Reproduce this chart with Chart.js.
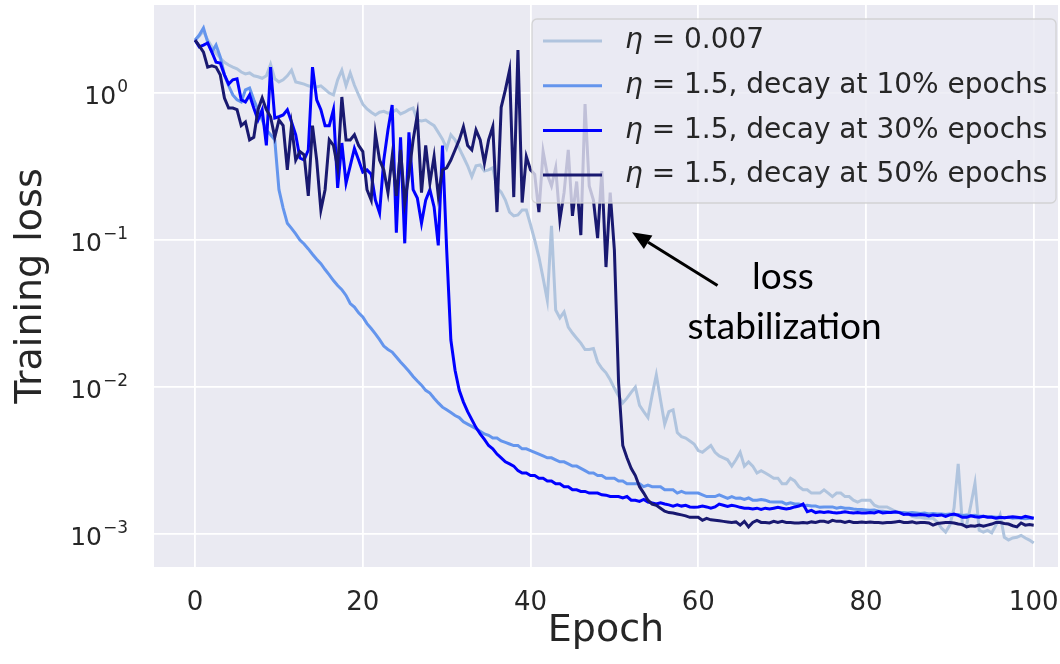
<!DOCTYPE html>
<html>
<head>
<meta charset="utf-8">
<script src="https://cdn.jsdelivr.net/npm/chart.js@4.4.1/dist/chart.umd.min.js"></script>
<style>
  html, body { margin: 0; padding: 0; background: #fff; }
  #wrap { width: 1060px; height: 664px; }
</style>
</head>
<body>
<div id="wrap"><canvas id="lossChart" width="1060" height="664"></canvas></div>
<script>
// epochs are logged twice per epoch
const epochs = Array.from({ length: 201 }, (_, i) => i / 2);
const xTicks = [0, 20, 40, 60, 80, 100];
const yTicks = [1e-3, 1e-2, 1e-1, 1];

const labels = [
  'η = 0.007',
  'η = 1.5, decay at 10% epochs',
  'η = 1.5, decay at 30% epochs',
  'η = 1.5, decay at 50% epochs'
];
const colors = ['#b0c4de', '#6495ed', '#0000ff', '#191970'];

const lossSmallLr = [
  2.29, 2.44, 2.64, 2.29, 2.06, 1.87, 1.73, 1.62, 1.55, 1.50,
  1.46, 1.39, 1.35, 1.37, 1.31, 1.29, 1.26, 1.31, 1.57, 1.25,
  1.19, 1.23, 1.31, 1.43, 1.19, 1.17, 1.15, 1.12, 1.10, 1.10,
  1.12, 1.06, 1.00, 0.97, 1.23, 1.43, 1.12, 1.37, 1.13, 0.97,
  0.84, 0.78, 0.74, 0.71, 0.74, 0.75, 0.73, 0.74, 0.77, 0.72,
  0.74, 0.77, 0.79, 0.655, 0.645, 0.655, 0.625, 0.60, 0.54, 0.486,
  0.42, 0.52, 0.48, 0.42, 0.367, 0.32, 0.27, 0.32, 0.324, 0.295,
  0.30, 0.31, 0.226, 0.212, 0.187, 0.155, 0.146, 0.148, 0.16, 0.16,
  0.127, 0.1, 0.0766, 0.0551, 0.039, 0.125, 0.0334, 0.0295, 0.0324, 0.0256,
  0.0233, 0.0215, 0.0199, 0.018, 0.018, 0.0183, 0.0148, 0.0134, 0.0125, 0.0112,
  0.0098, 0.0087, 0.0078, 0.0084, 0.0092, 0.0100, 0.0075, 0.0068, 0.0062, 0.0088,
  0.0121, 0.0082, 0.0056, 0.0068, 0.0070, 0.0049, 0.0046, 0.0045, 0.0043, 0.0041,
  0.0037, 0.0036, 0.0038, 0.0040, 0.0036, 0.0034, 0.0033, 0.0032, 0.0029, 0.0032,
  0.0036, 0.0029, 0.0031, 0.0029, 0.0026, 0.0027, 0.0026, 0.0025, 0.0024, 0.0024,
  0.0022, 0.0022, 0.0024, 0.0023, 0.0021, 0.0020, 0.0020, 0.0019, 0.0019, 0.0019,
  0.0020, 0.0019, 0.0018, 0.0019, 0.0019, 0.0018, 0.0018, 0.0017, 0.00165, 0.0017,
  0.0017, 0.0017, 0.00157, 0.00153, 0.00153, 0.00153, 0.00148, 0.00143, 0.00141, 0.00139,
  0.00137, 0.00132, 0.0013, 0.0013, 0.00128, 0.00128, 0.00128, 0.00121, 0.0011, 0.00103,
  0.00115, 0.0015, 0.0030, 0.00115, 0.00115, 0.00157, 0.00222, 0.00106, 0.00103, 0.00106,
  0.00102, 0.00115, 0.00135, 0.00095, 0.00091, 0.00094, 0.00095, 0.00098, 0.00094, 0.00091,
  0.00087
];

const lossDecay10 = [
  2.29, 2.48, 2.77, 2.22, 1.9, 2.12, 1.76, 1.33, 1.12, 0.97,
  0.9, 0.87, 1.05, 1.08, 0.9, 0.77, 0.655, 0.56, 0.52, 0.48,
  0.22, 0.165, 0.13, 0.12, 0.11, 0.1, 0.094, 0.087, 0.08, 0.074,
  0.069, 0.063, 0.058, 0.053, 0.049, 0.046, 0.042, 0.037, 0.035, 0.032,
  0.030, 0.027, 0.025, 0.023, 0.021, 0.019, 0.018, 0.0173, 0.016, 0.0148,
  0.0138, 0.0128, 0.0118, 0.011, 0.0103, 0.0095, 0.0091, 0.0084, 0.0078, 0.0073,
  0.0070, 0.0067, 0.0064, 0.0062, 0.0058, 0.0056, 0.0054, 0.0052, 0.0050, 0.0048,
  0.0047, 0.0045, 0.0045, 0.0043, 0.0042, 0.0041, 0.0040, 0.0040, 0.0038, 0.0038,
  0.0037, 0.0036, 0.0035, 0.0034, 0.0033, 0.0033, 0.0032, 0.0031, 0.0031, 0.0030,
  0.0029, 0.0029, 0.0028, 0.0027, 0.0026, 0.0026, 0.0025, 0.0025, 0.0024, 0.0024,
  0.0024, 0.0023, 0.0023, 0.0022, 0.0022, 0.0022, 0.0022, 0.0021, 0.00215, 0.0021,
  0.0021, 0.0021, 0.0020, 0.0020, 0.0020, 0.0019, 0.00195, 0.0019, 0.0019, 0.0019,
  0.0019, 0.00185, 0.0018, 0.0018, 0.0018, 0.00185, 0.0018, 0.00175, 0.0018, 0.00175,
  0.00176, 0.00172, 0.00176, 0.0017, 0.0017, 0.00172, 0.0017, 0.00166, 0.00165, 0.00165,
  0.00165, 0.0016, 0.00163, 0.0016, 0.0016, 0.00156, 0.00157, 0.00155, 0.00155, 0.00152,
  0.00153, 0.00153, 0.00153, 0.0015, 0.00152, 0.0015, 0.0015, 0.00148, 0.00147, 0.00147,
  0.00146, 0.00145, 0.00146, 0.00143, 0.00143, 0.00142, 0.00141, 0.0014, 0.0014, 0.0014,
  0.00139, 0.0014, 0.00139, 0.00138, 0.00139, 0.00137, 0.00138, 0.00137, 0.00137, 0.00136,
  0.00137, 0.00135, 0.00136, 0.00134, 0.00135, 0.00133, 0.00134, 0.00132, 0.00132, 0.00131,
  0.00131, 0.0013, 0.0013, 0.00129, 0.0013, 0.00128, 0.00129, 0.00128, 0.00127, 0.00128,
  0.00128
];

const lossDecay30 = [
  2.29, 2.06, 2.12, 2.19, 1.9, 1.62, 1.6, 1.33, 1.15, 1.23,
  1.25, 0.9, 0.87, 0.97, 0.79, 0.655, 0.77, 0.44, 1.50, 0.676,
  0.69, 0.71, 0.77, 0.635, 0.52, 0.361, 0.35, 0.41, 1.50, 0.9,
  0.77, 0.6, 0.6, 0.77, 0.226, 0.457, 0.244, 0.32, 0.42, 0.35,
  0.29, 0.30, 0.28, 0.187, 0.153, 0.35, 0.56, 0.83, 0.112, 0.5,
  0.095, 0.54, 0.22, 0.193, 0.13, 0.187, 0.22, 0.168, 0.092, 0.44,
  0.086, 0.0209, 0.013, 0.0095, 0.0079, 0.0068, 0.006, 0.0053, 0.0048, 0.0044,
  0.0040, 0.0038, 0.0035, 0.0033, 0.0031, 0.0030, 0.0029, 0.0027, 0.0026, 0.0026,
  0.0025, 0.0025, 0.0024, 0.0024, 0.0023, 0.0023, 0.0022, 0.0022, 0.0021, 0.0021,
  0.0020, 0.0020, 0.00195, 0.00195, 0.0019, 0.0019, 0.0019, 0.00185, 0.00184, 0.0018,
  0.0018, 0.0018, 0.00176, 0.0018, 0.0017, 0.0017, 0.00167, 0.00172, 0.00165, 0.00163,
  0.0016, 0.00163, 0.0016, 0.00158, 0.00155, 0.00158, 0.00155, 0.00157, 0.00153, 0.00152,
  0.00153, 0.00155, 0.00153, 0.0015, 0.00153, 0.0016, 0.00157, 0.00154, 0.00157, 0.00155,
  0.00152, 0.0015, 0.0015, 0.00148, 0.0015, 0.00147, 0.0015, 0.00148, 0.0015, 0.00152,
  0.0015, 0.00148, 0.0015, 0.00153, 0.00155, 0.0016, 0.00142, 0.00145, 0.0014, 0.00142,
  0.0014, 0.00142, 0.0014, 0.00139, 0.0014, 0.00142, 0.0014, 0.00139, 0.0014, 0.00139,
  0.00139, 0.0014, 0.00139, 0.00142, 0.00139, 0.0014, 0.0014, 0.00142, 0.0014, 0.00136,
  0.00137, 0.00135, 0.00135, 0.00136, 0.00135, 0.00133, 0.00135, 0.00134, 0.00135, 0.00132,
  0.00135, 0.00137, 0.00134, 0.0013, 0.0013, 0.00133, 0.00131, 0.0013, 0.00132, 0.0013,
  0.0013, 0.00128, 0.0013, 0.00129, 0.0013, 0.00131, 0.0013, 0.00129, 0.00132, 0.0013,
  0.00128
];

const lossDecay50 = [
  2.29, 2.09, 1.9, 1.5, 1.53, 1.5, 1.33, 0.925, 0.79, 0.79,
  0.77, 0.6, 0.635, 0.48, 0.5, 0.77, 0.925, 0.77, 0.69, 0.5,
  0.655, 0.6, 0.30, 0.6, 0.35, 0.4, 0.38, 0.2, 0.6, 0.35,
  0.16, 0.22, 0.48, 0.44, 0.31, 0.94, 0.48, 0.48, 0.52, 0.44,
  0.4, 0.22, 0.187, 0.53, 0.35, 0.30, 0.21, 0.37, 0.2, 0.41,
  0.18, 0.28, 0.48, 0.71, 0.21, 0.44, 0.244, 0.37, 0.2, 0.30,
  0.31, 0.35, 0.41, 0.48, 0.59, 0.44, 0.41, 0.56, 0.48, 0.334,
  0.48, 0.59, 0.155, 0.8, 1.05, 1.43, 0.196, 1.96, 0.18, 0.37,
  0.30, 0.28, 0.155, 0.4, 0.28, 0.233, 0.31, 0.137, 0.21, 0.41,
  0.146, 0.25, 0.108, 0.84, 0.233, 0.187, 0.103, 0.295, 0.0655, 0.21,
  0.0855, 0.0107, 0.004, 0.0033, 0.0028, 0.0025, 0.0021, 0.0019, 0.0017, 0.0016,
  0.00157, 0.0015, 0.00143, 0.0014, 0.00139, 0.00137, 0.00135, 0.00133, 0.0013, 0.0013,
  0.0013, 0.00124, 0.00128, 0.00125, 0.00124, 0.00123, 0.00122, 0.00121, 0.0012, 0.00121,
  0.00115, 0.00122, 0.00112, 0.0012, 0.00124, 0.0012, 0.0012, 0.00119, 0.00122, 0.0012,
  0.00122, 0.0012, 0.0012, 0.00119, 0.00119, 0.0012, 0.00119, 0.00121, 0.0012, 0.00122,
  0.00122, 0.0012, 0.00124, 0.00122, 0.00122, 0.0012, 0.00122, 0.0012, 0.0012, 0.00121,
  0.0012, 0.00121, 0.0012, 0.0012, 0.00119, 0.0012, 0.0012, 0.00121, 0.00122, 0.0012,
  0.0012, 0.00121, 0.00119, 0.0012, 0.0012, 0.00119, 0.00115, 0.00118, 0.00119, 0.0012,
  0.0012, 0.00119, 0.00117, 0.00116, 0.00112, 0.00114, 0.00113, 0.00115, 0.00113, 0.00115,
  0.00117, 0.0012, 0.0012, 0.00118, 0.00117, 0.00114, 0.00112, 0.00119, 0.00115, 0.00116,
  0.00115
];

// annotation, in data coordinates (epoch, loss)
const arrowTail = [62.3, 0.049];
const arrowHead = [52.1, 0.113];
const noteLines = ['loss', 'stabilization'];
const notePos = [[70.1, 0.056], [70.3, 0.0256]];

const series = [lossSmallLr, lossDecay10, lossDecay30, lossDecay50];
const TXT = '#262626';
const FONT = "'DejaVu Sans', sans-serif";

const bgPlugin = {
  id: 'bg',
  beforeDraw(chart) {
    const { ctx, chartArea: a } = chart;
    ctx.save();
    ctx.fillStyle = '#eaeaf2';
    ctx.fillRect(a.left, a.top, a.right - a.left, a.bottom - a.top);
    ctx.restore();
  }
};

// 10^n labels with a real superscript, like mathtext
const powLabels = {
  id: 'powLabels',
  afterDraw(chart) {
    const { ctx } = chart;
    const sy = chart.scales.y;
    const xr = sy.right - 26;
    ctx.save();
    ctx.fillStyle = TXT;
    ctx.textAlign = 'right';
    ctx.textBaseline = 'alphabetic';
    yTicks.forEach(v => {
      const y = sy.getPixelForValue(v);
      const e = Math.round(Math.log10(v));
      const exp = e < 0 ? '\u2212' + (-e) : String(e);
      ctx.font = '17px ' + FONT;
      const ew = ctx.measureText(exp).width;
      ctx.fillText(exp, xr, y - 1);
      ctx.font = '25px ' + FONT;
      ctx.fillText('10', xr - ew - 1, y + 11);
    });
    ctx.restore();
  }
};

const notePlugin = {
  id: 'note',
  afterDatasetsDraw(chart) {
    const { ctx } = chart;
    const sx = chart.scales.x, sy = chart.scales.y;
    const x1 = sx.getPixelForValue(arrowTail[0]), y1 = sy.getPixelForValue(arrowTail[1]);
    const x2 = sx.getPixelForValue(arrowHead[0]), y2 = sy.getPixelForValue(arrowHead[1]);
    const ang = Math.atan2(y2 - y1, x2 - x1);
    const hl = 19, hw = 8;
    const bx = x2 - hl * Math.cos(ang), by = y2 - hl * Math.sin(ang);
    ctx.save();
    ctx.strokeStyle = '#000';
    ctx.fillStyle = '#000';
    ctx.lineWidth = 3;
    ctx.beginPath(); ctx.moveTo(x1, y1); ctx.lineTo(bx, by); ctx.stroke();
    ctx.beginPath();
    ctx.moveTo(x2, y2);
    ctx.lineTo(bx + hw * Math.sin(ang), by - hw * Math.cos(ang));
    ctx.lineTo(bx - hw * Math.sin(ang), by + hw * Math.cos(ang));
    ctx.closePath(); ctx.fill();
    ctx.font = "37px Lato, 'Open Sans', sans-serif";
    ctx.textAlign = 'center';
    ctx.textBaseline = 'middle';
    noteLines.forEach((t, i) => {
      ctx.fillText(t, sx.getPixelForValue(notePos[i][0]), sy.getPixelForValue(notePos[i][1]));
    });
    ctx.restore();
  }
};

const legendPlugin = {
  id: 'boxLegend',
  afterDatasetsDraw(chart) {
    const { ctx, chartArea: a } = chart;
    const w = 524, h = 184;
    const x0 = a.right - w - 2, y0 = a.top + 14;
    ctx.save();
    ctx.beginPath();
    ctx.roundRect(x0, y0, w, h, 5);
    ctx.fillStyle = 'rgba(234,234,242,0.8)';
    ctx.fill();
    ctx.strokeStyle = 'rgba(204,204,204,0.8)';
    ctx.lineWidth = 1.3;
    ctx.stroke();
    ctx.textBaseline = 'middle';
    chart.data.datasets.forEach((ds, i) => {
      const y = y0 + 22 + i * 44.7;
      ctx.strokeStyle = ds.borderColor;
      ctx.lineWidth = ds.borderWidth;
      ctx.beginPath(); ctx.moveTo(x0 + 11, y); ctx.lineTo(x0 + 70, y); ctx.stroke();
      ctx.fillStyle = TXT;
      let tx = x0 + 93;
      ctx.font = 'italic 28px ' + FONT;
      ctx.fillText('η', tx, y);
      tx += ctx.measureText('η').width;
      ctx.font = '28px ' + FONT;
      ctx.fillText(ds.label.slice(1), tx, y);
    });
    ctx.restore();
  }
};

function noPad(s) {
  s.paddingTop = 0; s.paddingBottom = 0; s.paddingLeft = 0; s.paddingRight = 0;
}

new Chart(document.getElementById('lossChart'), {
  type: 'line',
  data: {
    labels: epochs,
    datasets: series.map((s, i) => ({
      label: labels[i],
      data: s.map((v, j) => ({ x: epochs[j], y: v })),
      borderColor: colors[i],
      borderWidth: 3,
      pointRadius: 0,
      tension: 0,
      order: 4 - i
    }))
  },
  options: {
    responsive: false,
    animation: false,
    layout: { padding: { top: 5, right: 2, left: 0, bottom: 0 } },
    plugins: { legend: { display: false }, tooltip: { enabled: false } },
    scales: {
      x: {
        type: 'linear',
        min: -4.9,
        max: 102.9,
        afterBuildTicks: s => { s.ticks = xTicks.map(v => ({ value: v })); },
        afterFit: s => { s.height = 97; noPad(s); },
        grid: { color: '#ffffff', lineWidth: 1.8, drawTicks: false },
        border: { display: false },
        ticks: { padding: 21, color: TXT, font: { family: FONT, size: 26 } },
        title: { display: true, text: 'Epoch', color: TXT, font: { family: FONT, size: 38 }, padding: { top: 0, bottom: 10 } }
      },
      y: {
        type: 'logarithmic',
        min: 5.97e-4,
        max: 3.97,
        afterBuildTicks: s => { s.ticks = yTicks.map(v => ({ value: v })); },
        afterFit: s => { s.width = 154; noPad(s); },
        grid: { color: '#ffffff', lineWidth: 1.8, drawTicks: false },
        border: { display: false },
        ticks: { display: false },
        title: { display: true, text: 'Training loss', color: TXT, font: { family: FONT, size: 38 }, padding: { top: 8, bottom: 0 } }
      }
    }
  },
  plugins: [bgPlugin, notePlugin, legendPlugin, powLabels]
});
</script>
</body>
</html>
